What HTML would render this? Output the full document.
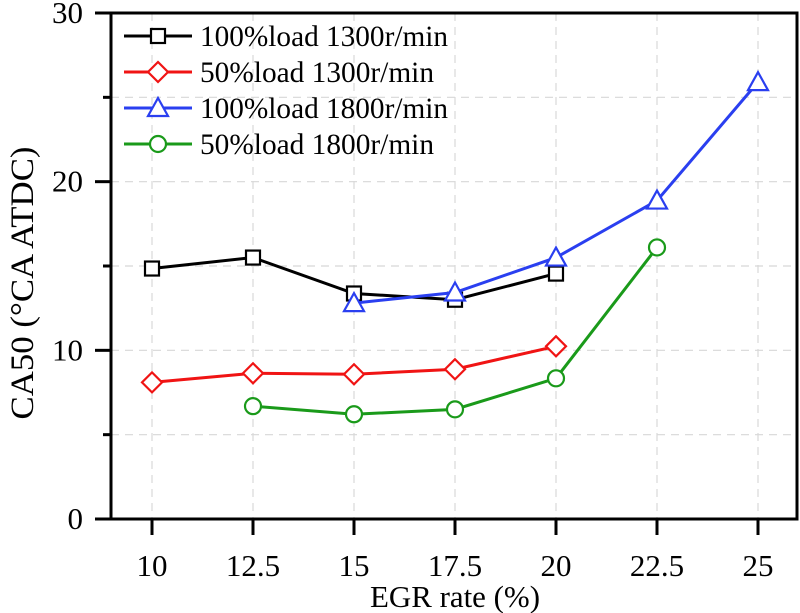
<!DOCTYPE html>
<html><head><meta charset="utf-8"><style>
html,body{margin:0;padding:0;background:#fff;}
svg{display:block;font-family:"Liberation Serif",serif;}
</style></head><body>
<svg id="chart" width="800" height="613" viewBox="0 0 800 613"></svg>
<script>
const xCats = [10, 12.5, 15, 17.5, 20, 22.5, 25];
const yTicks = [0, 10, 20, 30];
const yMinor = [5, 15, 25];
const s1x = [10, 12.5, 15, 17.5, 20];
const s1y = [14.85, 15.5, 13.37, 13.0, 14.55];
const s2x = [10, 12.5, 15, 17.5, 20];
const s2y = [8.1, 8.64, 8.58, 8.88, 10.24];
const s3x = [15, 17.5, 20, 22.5, 25];
const s3y = [12.8, 13.43, 15.5, 18.88, 25.9];
const s4x = [12.5, 15, 17.5, 20, 22.5];
const s4y = [6.69, 6.21, 6.5, 8.34, 16.1];
const names = ["100%load 1300r/min","50%load 1300r/min","100%load 1800r/min","50%load 1800r/min"];

const NS="http://www.w3.org/2000/svg";
const svg=document.getElementById('chart');
const L=111,R=797,T=13,B=519;
const X=v=>152+(v-10)*(758-152)/15;
const Y=v=>B-(v)*(B-T)/30;
function mk(tag,attrs,parent){const e=document.createElementNS(NS,tag);for(const k in attrs)e.setAttribute(k,attrs[k]);(parent||svg).appendChild(e);return e;}

xCats.forEach(v=>{const g=mk('line',{x1:X(v),x2:X(v),y1:T,y2:B,stroke:'#d8d8d8','stroke-width':1.2,'stroke-dasharray':'8,6'});

});
[5,10,15,20,25].forEach(v=>{const g=mk('line',{x1:L,x2:R,y1:Y(v),y2:Y(v),stroke:'#d8d8d8','stroke-width':1.2,'stroke-dasharray':'8,6'});

});

const fr=mk('rect',{x:L,y:T,width:R-L,height:B-T,fill:'none',stroke:'#000','stroke-width':3});



xCats.forEach(v=>{const t=mk('line',{x1:X(v),x2:X(v),y1:B,y2:B+16,stroke:'#000','stroke-width':3});


const l=mk('text',{x:X(v),y:576,'text-anchor':'middle','font-size':31});l.textContent=v;

});
yTicks.forEach(v=>{const t=mk('line',{x1:L-16,x2:L,y1:Y(v),y2:Y(v),stroke:'#000','stroke-width':3});


const l=mk('text',{x:83,y:Y(v)+10,'text-anchor':'end','font-size':31});l.textContent=v;

});
yMinor.forEach(v=>{const t=mk('line',{x1:L-8,x2:L,y1:Y(v),y2:Y(v),stroke:'#000','stroke-width':3});

});

const xt=mk('text',{x:455,y:607,'text-anchor':'middle','font-size':31,textLength:170,lengthAdjust:'spacingAndGlyphs'});xt.textContent='EGR rate (%)';


const yt=mk('text',{x:0,y:0,'text-anchor':'middle','font-size':33,textLength:273,lengthAdjust:'spacingAndGlyphs',transform:'translate(33,283) rotate(-90)'});yt.textContent='CA50 (°CA ATDC)';



function marker(type,cx,cy,color,parent){
  let e;
  if(type==='sq') e=mk('rect',{x:cx-7,y:cy-7,width:14,height:14},parent);
  else if(type==='di') e=mk('polygon',{points:`${cx},${cy-10} ${cx+10},${cy} ${cx},${cy+10} ${cx-10},${cy}`},parent);
  else if(type==='tr') e=mk('polygon',{points:`${cx},${cy-10} ${cx+10},${cy+8} ${cx-10},${cy+8}`},parent);
  else e=mk('circle',{cx:cx,cy:cy,r:8},parent);
  e.setAttribute('fill','#fff');e.setAttribute('stroke',color);e.setAttribute('stroke-width',2.2);
  return e;
}
const series=[[s1x,s1y,'#000','sq'],[s2x,s2y,'#f01414','di'],[s3x,s3y,'#2a3ff0','tr'],[s4x,s4y,'#1a9a1a','ci']];
series.forEach((s,i)=>{
  const g=mk('g',{});
  
  
  const pts=s[0].map((x,j)=>X(x)+','+Y(s[1][j])).join(' ');
  mk('polyline',{points:pts,fill:'none',stroke:s[2],'stroke-width':3},g);
  s[0].forEach((x,j)=>{const m=marker(s[3],X(x),Y(s[1][j]),s[2],g);
  
  });
  const ly=[36,72,108,144][i];
  const lg=mk('g',{});
  
  
  mk('line',{x1:124,x2:192,y1:ly,y2:ly,stroke:s[2],'stroke-width':3},lg);
  marker(s[3],158,ly,s[2],lg);
  const tl=[248,234,248,234][i];
  const t=mk('text',{x:200,y:ly+10,'font-size':30,textLength:tl,lengthAdjust:'spacingAndGlyphs'},lg);t.textContent=names[i];
});
</script>
</body></html>
